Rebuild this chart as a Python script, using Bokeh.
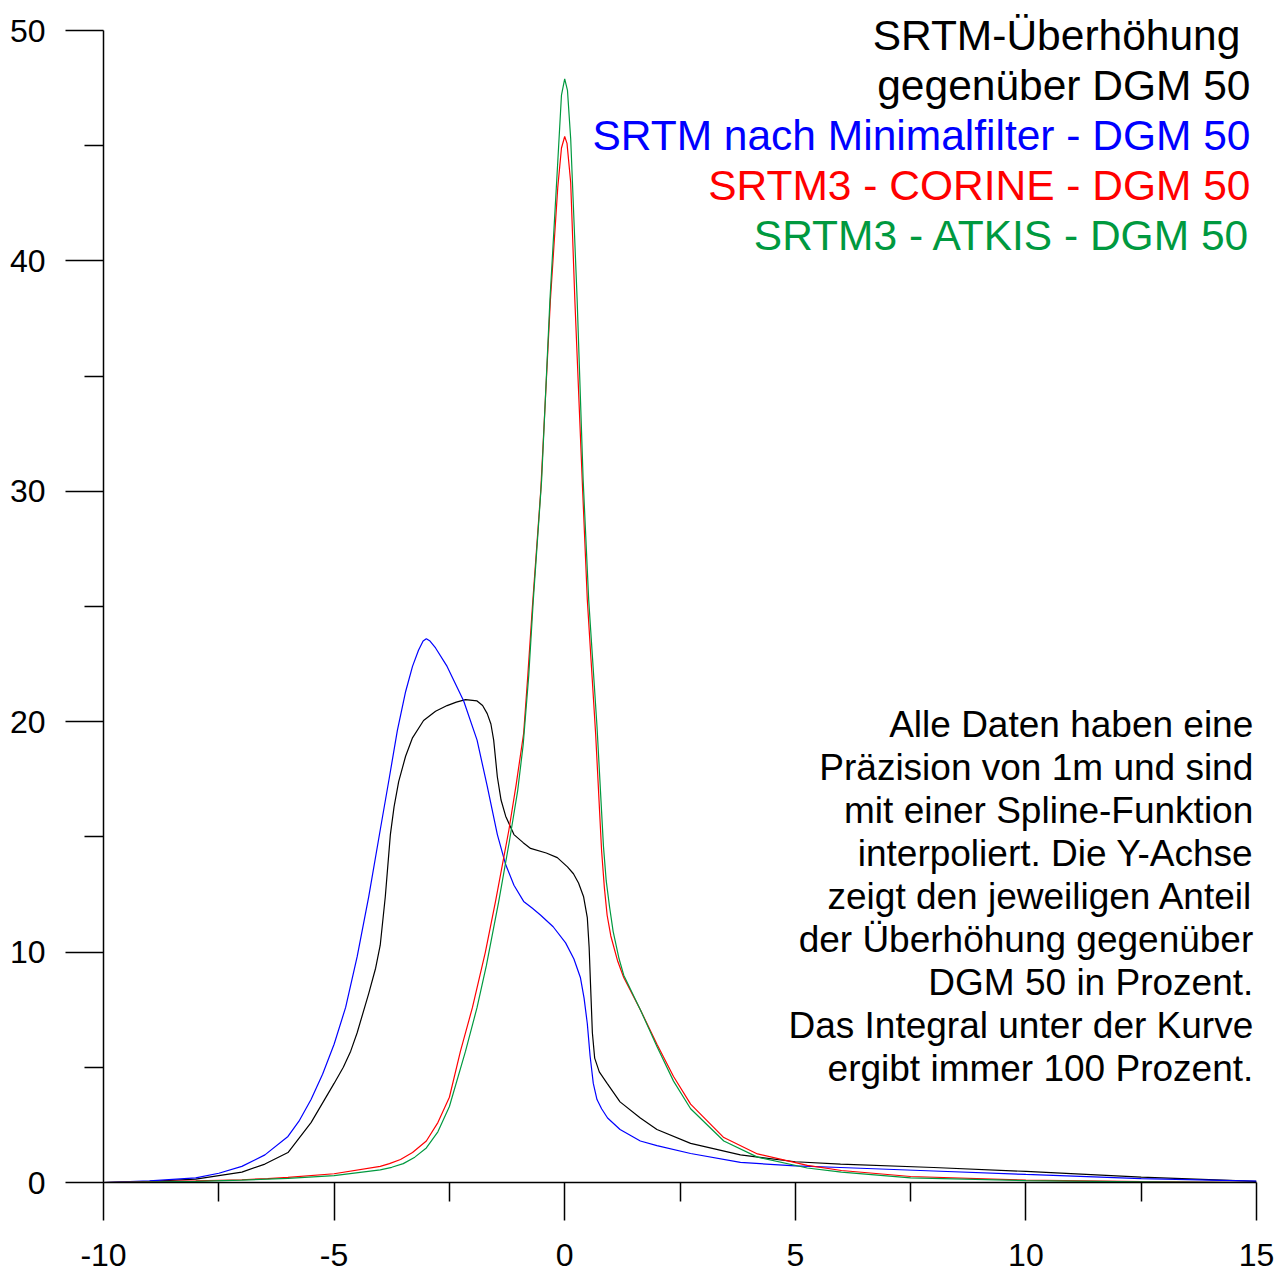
from bokeh.plotting import figure
from bokeh.models import Range1d, FixedTicker, Label
from bokeh.embed import file_html
from bokeh.resources import INLINE

FONT = "Liberation Sans"

# ---------------- data ----------------
x_black = [-10, -9, -8, -7, -6.5, -6, -5.5, -5, -4.8, -4.64, -4.5, -4.25, -4.1, -4.0,
           -3.89, -3.78, -3.7, -3.6, -3.45, -3.3, -3.06, -2.8, -2.55, -2.35, -2.15, -1.9,
           -1.78, -1.68, -1.6, -1.54, -1.46, -1.38, -1.28, -1.1, -0.9, -0.74, -0.4, -0.16,
           0.06, 0.19, 0.3, 0.41, 0.49, 0.53, 0.56, 0.6, 0.65, 0.75, 0.92, 1.2, 1.64,
           2.0, 2.73, 3.81, 5.0, 5.98, 8.0, 10.0, 12.5, 15.0]
y_black = [0.0, 0.05, 0.15, 0.45, 0.8, 1.3, 2.6, 4.3, 5.0, 5.7, 6.5, 8.2, 9.3, 10.3,
           12.4, 15.1, 16.3, 17.4, 18.5, 19.3, 20.05, 20.45, 20.7, 20.85, 20.96, 20.9,
           20.7, 20.35, 19.9, 19.2, 17.6, 16.6, 15.9, 15.1, 14.75, 14.5, 14.3, 14.1,
           13.7, 13.4, 13.0, 12.4, 11.5, 10.2, 8.6, 6.5, 5.4, 4.8, 4.3, 3.5, 2.8,
           2.3, 1.7, 1.2, 0.9, 0.8, 0.65, 0.48, 0.23, 0.05]

x_blue = [-10, -9, -8, -7.5, -7, -6.5, -6, -5.75, -5.5, -5.25, -5.0, -4.75, -4.5, -4.25,
          -4.0, -3.8, -3.63, -3.45, -3.3, -3.17, -3.07, -3.0, -2.92, -2.8, -2.55, -2.19,
          -1.9, -1.68, -1.46, -1.28, -1.1, -0.89, -0.7, -0.52, -0.25, 0.02, 0.2, 0.34,
          0.42, 0.49, 0.55, 0.62, 0.7, 0.8, 0.93, 1.2, 1.64, 2.0, 2.73, 3.81, 5.0,
          5.98, 8.0, 10.0, 12.5, 15.0]
y_blue = [0.0, 0.07, 0.2, 0.4, 0.7, 1.2, 2.0, 2.7, 3.6, 4.7, 6.0, 7.6, 9.8, 12.4,
          15.3, 17.6, 19.6, 21.3, 22.4, 23.1, 23.5, 23.6, 23.5, 23.2, 22.4, 20.9,
          19.2, 17.2, 15.1, 13.8, 12.9, 12.2, 11.9, 11.6, 11.1, 10.4, 9.7, 8.9,
          8.0, 6.9, 5.5, 4.3, 3.6, 3.2, 2.8, 2.3, 1.8, 1.6, 1.26, 0.87, 0.72,
          0.65, 0.5, 0.35, 0.17, 0.06]

x_red = [-10, -8, -7, -6.44, -6, -5, -4, -3.8, -3.56, -3.3, -3.0, -2.75, -2.5, -2.26,
         -2.0, -1.72, -1.5, -1.21, -1.05, -0.89, -0.8, -0.7, -0.52, -0.31, -0.15, -0.07,
         0.0, 0.05, 0.13, 0.22, 0.39, 0.49, 0.67, 0.8, 0.86, 0.92, 1.0, 1.15, 1.28,
         1.64, 2.0, 2.36, 2.73, 3.45, 4.18, 5.26, 6.0, 7.5, 10.0, 12.5, 15.0]
y_red = [0.0, 0.07, 0.12, 0.17, 0.22, 0.38, 0.7, 0.82, 1.0, 1.3, 1.8, 2.6, 3.7, 5.7,
         7.6, 10.0, 12.2, 15.3, 17.3, 19.5, 22.0, 25.0, 30.0, 38.3, 43.2, 44.9,
         45.4, 45.1, 43.4, 38.3, 30.0, 25.3, 19.5, 14.4, 12.8, 11.6, 10.7, 9.6, 8.9,
         7.5, 6.0, 4.6, 3.4, 1.95, 1.24, 0.74, 0.52, 0.26, 0.1, 0.04, 0.0]

x_green = [-10, -8, -7, -6, -5, -4, -3.75, -3.5, -3.25, -3.0, -2.75, -2.5, -2.15, -1.9,
           -1.7, -1.43, -1.2, -1.02, -0.9, -0.78, -0.68, -0.5, -0.32, -0.15, -0.07, 0.0,
           0.06, 0.13, 0.27, 0.4, 0.52, 0.7, 0.84, 0.9, 0.97, 1.05, 1.18, 1.28, 1.64,
           2.0, 2.36, 2.73, 3.45, 4.18, 5.26, 6.0, 7.5, 10.0, 12.5, 15.0]
y_green = [0.0, 0.05, 0.1, 0.18, 0.3, 0.55, 0.66, 0.82, 1.1, 1.5, 2.2, 3.3, 5.7, 7.6,
           9.4, 12.2, 14.8, 17.0, 19.0, 22.0, 25.3, 30.5, 38.3, 44.3, 47.2, 47.9,
           47.4, 45.3, 38.3, 30.5, 25.3, 19.8, 14.6, 13.1, 12.0, 10.9, 9.7, 9.0, 7.5,
           5.9, 4.4, 3.2, 1.8, 1.1, 0.63, 0.45, 0.2, 0.08, 0.03, 0.0]

x_major = [-10, -5, 0, 5, 10, 15]
x_minor = [-7.5, -2.5, 2.5, 7.5, 12.5]
x_major_labels = ["-10", "-5", "0", "5", "10", "15"]
y_major = [0, 10, 20, 30, 40, 50]
y_minor = [5, 15, 25, 35, 45]

title_lines = ["SRTM-Überhöhung", "gegenüber DGM 50"]
legend_lines = ["SRTM nach Minimalfilter - DGM 50", "SRTM3 - CORINE - DGM 50",
                "SRTM3 - ATKIS - DGM 50"]
note_lines = ["Alle Daten haben eine", "Präzision von 1m und sind",
              "mit einer Spline-Funktion", "interpoliert. Die Y-Achse",
              "zeigt den jeweiligen Anteil", "der Überhöhung gegenüber",
              "DGM 50 in Prozent.", "Das Integral unter der Kurve",
              "ergibt immer 100 Prozent."]

BLACK = "#000000"
BLUE = "#0000ff"
RED = "#ff0000"
GREEN = "#00993f"

# ---------------- figure ----------------
# frame reaches the canvas top so the heading above y=50 is not clipped;
# the y axis line itself is bounded to 0..50
Y_TOP = 50 + 30 / 23.04
p = figure(width=1276, height=1272, output_backend="svg", toolbar_location=None,
           x_range=Range1d(-10, 15), y_range=Range1d(0, Y_TOP),
           min_border_left=103, min_border_right=20, min_border_top=0,
           min_border_bottom=90)
p.outline_line_color = None
p.xgrid.visible = False
p.ygrid.visible = False
p.background_fill_color = "white"
p.border_fill_color = "white"

for ax, maj, mnr in ((p.xaxis[0], x_major, x_minor), (p.yaxis[0], y_major, y_minor)):
    ax.ticker = FixedTicker(ticks=maj, minor_ticks=mnr)
    ax.axis_line_color = "black"
    ax.axis_line_width = 1.5
    ax.major_tick_line_color = "black"
    ax.major_tick_line_width = 1.5
    ax.minor_tick_line_color = "black"
    ax.minor_tick_line_width = 1.5
    ax.major_tick_in = 0
    ax.major_tick_out = 38
    ax.minor_tick_in = 0
    ax.minor_tick_out = 19
    ax.major_label_text_font = FONT
    ax.major_label_text_font_size = "32px"
    ax.major_label_text_color = "black"
p.yaxis[0].bounds = (0, 50)
p.xaxis[0].major_label_overrides = {v: s for v, s in zip(x_major, x_major_labels)}
p.xaxis[0].major_label_standoff = 23
p.yaxis[0].major_label_standoff = 20

p.line(x_black, y_black, line_color=BLACK, line_width=1.2)
p.line(x_blue, y_blue, line_color=BLUE, line_width=1.2)
p.line(x_red, y_red, line_color=RED, line_width=1.2)
p.line(x_green, y_green, line_color=GREEN, line_width=1.2)

# ---------------- texts ----------------
# heading block (top right), one line every ~50 px
head_y = [49.8, 47.63, 45.46, 43.29, 41.12]
head_x = [14.65, 14.87, 14.87, 14.87, 14.87]
head_txt = title_lines + legend_lines
head_col = [BLACK, BLACK, BLUE, RED, GREEN]
for t, xx, yy, c in zip(head_txt, head_x, head_y, head_col):
    p.add_layout(Label(x=xx, y=yy, text=t, text_align="right", text_baseline="alphabetic",
                       text_font=FONT, text_font_size="42.5px", text_color=c))

# note block (right)
note_top = 19.86
note_step = 42.9 / 23.04
for i, t in enumerate(note_lines):
    p.add_layout(Label(x=14.93, y=note_top - i * note_step, text=t, text_align="right",
                       text_baseline="alphabetic", text_font=FONT,
                       text_font_size="37px", text_color="black"))

open("out.html", "w").write(file_html(p, INLINE))
